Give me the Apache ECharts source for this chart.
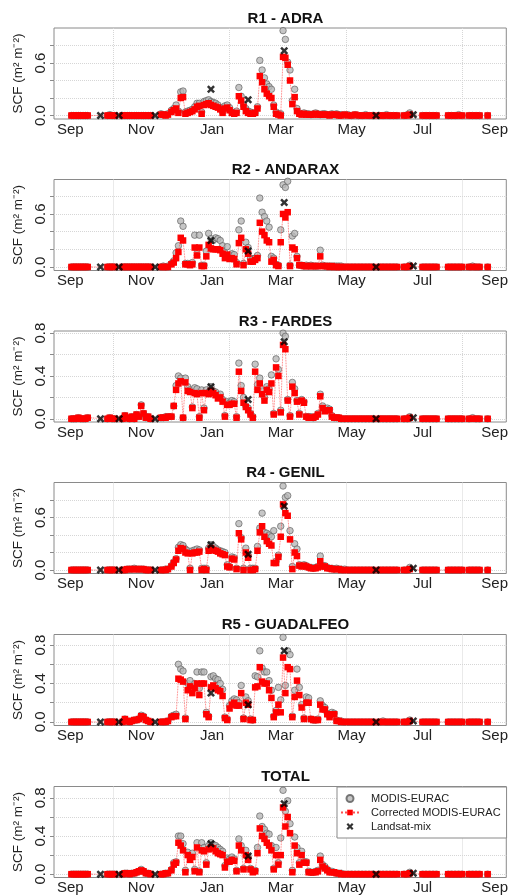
<!DOCTYPE html>
<html>
<head>
<meta charset="utf-8">
<script src="https://cdn.jsdelivr.net/npm/echarts@6/dist/echarts.min.js"></script>
<style>
  html, body { margin: 0; padding: 0; background: #fff; }
  #chart { width: 511px; height: 896px; }
</style>
</head>
<body>
<div id="chart"></div>
<script>
// days counted from 1 September (one hydrological year)
const days = [
  1,3,5,7,9,11,13,15, 32,34,36,38, 45,47,49,51,53,55,57,59,61,63,65,67,69, 78,80,82,84,
  87,89,91,93,95,97,99,101,103,105,
  107,109,111,113,115,117,119,121,123,125,
  127,129,131,133,135,137,139,141,143,145,
  147,149,151,153,155,157,159,161,163,165,
  167,169,171,173,175,177,179,181,183,185,
  187,189,191,193,195,197,199,201,203,205,
  207,209,211,213,215,217,219,221,223,225,
  227,229,231,233,
  236,239,242,245,248,251,254,257,260, 266,269,272,275,278,281, 287,290,292, 303,306,309,312,315, 325,328,331,334,337, 343,346,349,352, 359
];
const landsatDays = [26, 42, 73, 121, 153, 184, 263, 295];

const monthTicks = [0, 61, 122, 181, 242, 303, 365];
const monthLabels = ['Sep', 'Nov', 'Jan', 'Mar', 'May', 'Jul', 'Sep'];
const gridDays = [37, 137, 237, 337];
const yTicks = [0, 0.2, 0.4, 0.6, 0.8];

const regionNames = ['R1 - ADRA', 'R2 - ANDARAX', 'R3 - FARDES', 'R4 - GENIL', 'R5 - GUADALFEO', 'TOTAL'];
const yMin = [-0.04, -0.04, -0.03, -0.04, -0.037, -0.035];
const yMax = [1.0, 0.99, 0.82, 1.0, 0.91, 0.92];
const yLabelSets = [[0, 0.6], [0, 0.6], [0, 0.4, 0.8], [0, 0.6], [0, 0.4, 0.8], [0, 0.4, 0.8]];

// MODIS-EURAC
const r1Modis = [
  0,0,0,0,0,0,0,0, 0,0.01,0,0, 0,0,0,0,0,0,0,0,0,0,0,0,0, 0.02,0.01,0.01,0.02,
  0.06,0.08,0.12,0.05,0.27,0.28,0.04,0.05,0.06,0.07,
  0.10,0.14,0.14,0.04,0.16,0.17,0.18,0.16,0.15,0.14,
  0.12,0.09,0.04,0.11,0.12,0.09,0.04,0.03,0.05,0.32,
  0.22,0.12,0.08,0.05,0.04,0.03,0.03,0.10,0.63,0.52,
  0.43,0.36,0.33,0.30,0.12,0.04,0.02,0.02,0.97,0.87,
  0.61,0.52,0.17,0.30,0.08,0.03,0.02,0.03,0.02,0.02,
  0.01,0.02,0.03,0.02,0.01,0.02,0.02,0.01,0.01,0.02,
  0.01,0.02,0.01,0.01,
  0.01,0.01,0,0.01,0,0,0.01,0,0, 0,0,0.01,0,0,0, 0,0.01,0.03, 0,0,0,0,0, 0,0,0,0.01,0, 0,0,0,0, 0
];
const r2Modis = [
  0,0,0,0,0,0,0,0, 0,0,0,0, 0,0,0,0,0,0,0,0,0,0,0,0,0, 0,0.01,0,0.01,
  0.04,0.07,0.16,0.24,0.52,0.46,0.04,0.04,0.03,0.05,
  0.36,0.20,0.36,0.02,0.02,0.18,0.38,0.32,0.30,0.33,
  0.32,0.30,0.24,0.16,0.23,0.13,0.15,0.14,0.05,0.42,
  0.52,0.04,0.28,0.22,0.10,0.09,0.10,0.13,0.78,0.62,
  0.57,0.52,0.45,0.12,0.10,0.03,0.02,0.42,0.93,0.90,
  0.97,0.02,0.35,0.38,0.12,0.02,0.02,0.01,0.02,0.01,
  0.02,0.01,0.01,0.01,0.19,0.02,0.01,0.01,0.01,0.01,
  0.01,0.01,0.01,0.01,
  0,0,0,0,0,0,0,0,0, 0,0,0,0,0,0, 0,0,0.02, 0,0,0,0,0, 0,0,0,0,0, 0,0.01,0,0, 0
];
const r3Modis = [
  0,0,0,0.01,0,0,0,0.01, 0,0.01,0,0, 0,0.03,0.01,0,0.02,0,0.04,0.02,0.13,0.05,0.01,0.02,0, 0.01,0.01,0.02,0.02,
  0.02,0.12,0.31,0.40,0.38,0.01,0.38,0.30,0.27,0.11,
  0.29,0.28,0.02,0.27,0.10,0.27,0.25,0.30,0.26,0.25,
  0.22,0.23,0.18,0.03,0.16,0.15,0.17,0.16,0.02,0.52,
  0.31,0.20,0.12,0.10,0.05,0.02,0.51,0.32,0.38,0.26,
  0.20,0.30,0.28,0.41,0.05,0.56,0.46,0.08,0.80,0.77,
  0.18,0.03,0.34,0.28,0.17,0.05,0.18,0.16,0.02,0.02,
  0.02,0.01,0.02,0.05,0.23,0.12,0.08,0.10,0.09,0.03,
  0.01,0.01,0.01,0,
  0,0,0,0,0,0,0,0,0, 0,0,0,0,0,0, 0,0,0.02, 0,0,0,0,0, 0,0,0,0,0, 0,0.01,0,0, 0
];
const r4Modis = [
  0,0,0,0,0,0,0,0, 0,0,0,0, 0,0,0.01,0.01,0.01,0.02,0.01,0.01,0.01,0.01,0,0,0, 0,0,0.01,0.01,
  0.05,0.09,0.13,0.26,0.29,0.28,0.24,0.22,0.02,0.22,
  0.23,0.24,0.23,0.02,0.02,0.02,0.25,0.29,0.27,0.25,
  0.23,0.22,0.21,0.20,0.06,0.04,0.15,0.14,0.02,0.53,
  0.37,0.02,0.25,0.17,0.02,0.02,0.02,0.27,0.48,0.65,
  0.43,0.42,0.40,0.38,0.45,0.10,0.17,0.50,0.96,0.83,
  0.85,0.45,0.04,0.30,0.24,0.06,0.05,0.06,0.05,0.03,
  0.03,0.02,0.03,0.04,0.16,0.05,0.05,0.03,0.02,0.02,
  0.01,0.02,0.01,0.01,
  0.01,0,0,0,0,0,0,0,0, 0,0,0,0,0,0, 0,0,0.03, 0,0,0,0,0, 0,0,0,0,0, 0,0,0,0, 0
];
const r5Modis = [
  0,0,0,0,0,0,0,0, 0,0,0,0, 0,0.03,0.01,0,0.01,0.02,0.02,0.03,0.07,0.06,0.02,0.01,0, 0,0,0,0.01,
  0.06,0.07,0.08,0.60,0.55,0.53,0.04,0.40,0.43,0.36,
  0.40,0.52,0.35,0.52,0.52,0.10,0.06,0.47,0.48,0.45,
  0.44,0.40,0.34,0.05,0.03,0.17,0.22,0.24,0.23,0.20,
  0.38,0.04,0.26,0.22,0.03,0.02,0.48,0.47,0.74,0.56,
  0.52,0.52,0.43,0.33,0.06,0.12,0.36,0.23,0.88,0.38,
  0.74,0.70,0.06,0.33,0.55,0.36,0.18,0.04,0.26,0.25,
  0.03,0.02,0.02,0.03,0.22,0.17,0.15,0.09,0.06,0.10,
  0.09,0.02,0.01,0.01,
  0,0,0,0,0,0,0,0,0, 0,0.01,0,0,0,0, 0,0,0.02, 0,0,0,0,0, 0,0,0,0,0, 0,0,0,0, 0
];
const totModis = [
  0,0,0,0,0,0,0,0, 0,0,0,0, 0,0.01,0.01,0,0.01,0.01,0.02,0.03,0.05,0.03,0.01,0.01,0, 0,0,0.01,0.01,
  0.05,0.12,0.13,0.40,0.40,0.32,0.04,0.23,0.19,0.22,
  0.05,0.33,0.03,0.33,0.28,0.12,0.30,0.33,0.31,0.30,
  0.28,0.26,0.24,0.09,0.17,0.16,0.18,0.16,0.04,0.37,
  0.30,0.06,0.25,0.18,0.06,0.03,0.04,0.28,0.61,0.50,
  0.47,0.43,0.42,0.30,0.06,0.28,0.12,0.38,0.88,0.66,
  0.77,0.53,0.04,0.39,0.28,0.12,0.24,0.13,0.13,0.03,
  0.02,0.02,0.03,0.04,0.19,0.10,0.08,0.05,0.03,0.03,
  0.02,0.01,0.01,0.01,
  0,0,0,0,0,0,0,0,0, 0,0,0,0,0,0, 0,0,0.02, 0,0,0,0,0, 0,0,0,0,0, 0,0,0,0, 0
];

// Corrected MODIS-EURAC
const r1Corr = [
  0,0,0,0,0,0,0,0, 0,0,0,0, 0,0,0,0,0,0,0,0,0,0,0,0,0, 0.01,0.01,0,0.01,
  0.04,0.06,0.08,0.03,0.20,0.21,0.02,0.03,0.04,0.05,
  0.07,0.10,0.11,0.02,0.12,0.13,0.14,0.12,0.11,0.10,
  0.09,0.07,0.03,0.08,0.09,0.06,0.03,0.02,0.03,0.22,
  0.17,0.10,0.05,0.03,0.02,0.02,0.03,0.08,0.45,0.38,
  0.30,0.25,0.22,0.20,0.10,0.02,0.01,0,0.67,0.66,
  0.58,0.40,0.13,0.21,0.05,0.02,0.01,0.02,0.01,0.01,
  0.01,0.01,0.02,0.01,0.01,0.01,0.01,0.01,0,0.01,
  0.01,0.01,0,0,
  0.01,0,0,0.01,0,0,0,0,0, 0,0,0,0,0,0, 0,0,0.01, 0,0,0,0,0, 0,0,0,0,0, 0,0,0,0, 0
];
const r2Corr = [
  0,0,0,0,0,0,0,0, 0,0,0,0, 0,0,0,0,0,0,0,0,0,0,0,0,0, 0,0,0,0,
  0.03,0.05,0.10,0.17,0.33,0.30,0.03,0.03,0.02,0.03,
  0.22,0.13,0.22,0.01,0.01,0.12,0.25,0.21,0.20,0.20,
  0.20,0.19,0.15,0.10,0.14,0.09,0.10,0.09,0.03,0.27,
  0.33,0.02,0.20,0.15,0.06,0.06,0.08,0.10,0.50,0.40,
  0.36,0.30,0.28,0.06,0.08,0.02,0.01,0.28,0.60,0.56,
  0.62,0.01,0.22,0.20,0.10,0.02,0.02,0.01,0.01,0.01,
  0.01,0.01,0.01,0.01,0.12,0.01,0.01,0.01,0,0.01,
  0,0,0,0,
  0,0,0,0,0,0,0,0,0, 0,0,0,0,0,0, 0,0,0.01, 0,0,0,0,0, 0,0,0,0,0, 0,0,0,0, 0
];
const r3Corr = [
  0,0,0,0.01,0,0,0,0.01, 0,0.01,0,0, 0,0.03,0.01,0,0.02,0,0.04,0.02,0.12,0.05,0.01,0.02,0, 0.01,0.01,0.01,0.02,
  0.02,0.12,0.27,0.33,0.35,0.01,0.34,0.26,0.25,0.10,
  0.24,0.23,0.01,0.24,0.08,0.24,0.23,0.26,0.24,0.22,
  0.19,0.20,0.16,0.02,0.13,0.13,0.14,0.14,0.01,0.44,
  0.26,0.15,0.11,0.08,0.04,0.01,0.44,0.27,0.33,0.23,
  0.17,0.27,0.25,0.33,0.04,0.48,0.40,0.06,0.69,0.65,
  0.17,0.02,0.30,0.24,0.16,0.04,0.17,0.15,0.02,0.01,
  0.01,0.01,0.02,0.04,0.21,0.10,0.07,0.08,0.08,0.02,
  0.01,0.01,0.01,0,
  0,0,0,0,0,0,0,0,0, 0,0,0,0,0,0, 0,0,0.01, 0,0,0,0,0, 0,0,0,0,0, 0,0,0,0, 0
];
const r4Corr = [
  0,0,0,0,0,0,0,0, 0,0,0,0, 0,0,0.01,0.01,0.01,0.01,0.01,0.01,0.01,0.01,0,0,0, 0,0,0,0.01,
  0.04,0.08,0.12,0.22,0.25,0.24,0.20,0.19,0,0.19,
  0.20,0.20,0.21,0,0.01,0,0.22,0.25,0.23,0.22,
  0.21,0.19,0.18,0.17,0.04,0.03,0.13,0.12,0.01,0.42,
  0.35,0,0.20,0.14,0,0,0.01,0.22,0.43,0.50,
  0.38,0.33,0.30,0.28,0.08,0.08,0.15,0.38,0.75,0.65,
  0.62,0.35,0.01,0.20,0.16,0.05,0.04,0.05,0.04,0.03,
  0.02,0.02,0.02,0.03,0.10,0.04,0.04,0.02,0.02,0.01,
  0.01,0.01,0.01,0,
  0,0,0,0,0,0,0,0,0, 0,0,0,0,0,0, 0,0,0.01, 0,0,0,0,0, 0,0,0,0,0, 0,0,0,0, 0
];
const r5Corr = [
  0,0,0,0,0,0,0,0, 0,0,0,0, 0,0.03,0.01,0,0.01,0.02,0.02,0.03,0.06,0.05,0.02,0.01,0, 0,0,0,0.01,
  0.05,0.06,0.06,0.45,0.44,0.42,0.03,0.33,0.37,0.30,
  0.35,0.40,0.28,0.40,0.40,0.08,0.05,0.36,0.38,0.35,
  0.33,0.32,0.27,0.04,0.02,0.14,0.18,0.20,0.17,0.17,
  0.30,0.03,0.20,0.18,0.02,0.02,0.36,0.37,0.57,0.42,
  0.40,0.40,0.33,0.25,0.05,0.10,0.18,0.10,0.67,0.30,
  0.57,0.55,0.05,0.26,0.43,0.28,0.15,0.03,0.20,0.20,
  0.03,0.02,0.02,0.02,0.18,0.13,0.13,0.08,0.05,0.08,
  0.08,0.01,0.01,0,
  0,0,0,0,0,0,0,0,0, 0,0,0,0,0,0, 0,0,0.01, 0,0,0,0,0, 0,0,0,0,0, 0,0,0,0, 0
];
const totCorr = [
  0,0,0,0,0,0,0,0, 0,0,0,0, 0,0.01,0.01,0,0.01,0.01,0.02,0.03,0.04,0.03,0.01,0.01,0, 0,0,0.01,0.01,
  0.04,0.10,0.12,0.33,0.30,0.25,0.02,0.20,0.15,0.18,
  0.03,0.28,0.02,0.25,0.24,0.10,0.26,0.28,0.27,0.24,
  0.22,0.21,0.20,0.07,0.13,0.13,0.15,0.14,0.03,0.30,
  0.25,0.05,0.20,0.15,0.05,0.02,0.03,0.22,0.48,0.40,
  0.37,0.33,0.30,0.25,0.05,0.20,0.10,0.20,0.70,0.50,
  0.60,0.43,0.02,0.30,0.22,0.10,0.20,0.12,0.12,0.02,
  0.02,0.02,0.02,0.03,0.15,0.08,0.06,0.04,0.02,0.02,
  0.02,0.01,0.01,0,
  0,0,0,0,0,0,0,0,0, 0,0,0,0,0,0, 0,0,0.01, 0,0,0,0,0, 0,0,0,0,0, 0,0,0,0, 0
];

// Landsat-mix
const r1Landsat = [0, 0, 0, 0.30, 0.18, 0.74, 0, 0.01];
const r2Landsat = [0, 0, 0, 0.30, 0.18, 0.73, 0, 0.01];
const r3Landsat = [0, 0, 0, 0.30, 0.18, 0.72, 0, 0.01];
const r4Landsat = [0, 0, 0, 0.29, 0.18, 0.73, 0, 0.02];
const r5Landsat = [0, 0, 0, 0.30, 0.18, 0.74, 0, 0.01];
const totLandsat = [0, 0, 0, 0.32, 0.19, 0.74, 0, 0.01];

const modisSets = [r1Modis, r2Modis, r3Modis, r4Modis, r5Modis, totModis];
const corrSets = [r1Corr, r2Corr, r3Corr, r4Corr, r5Corr, totCorr];
const landsatSets = [r1Landsat, r2Landsat, r3Landsat, r4Landsat, r5Landsat, totLandsat];

modisSets.concat(corrSets).forEach((a, k) => {
  if (a.length !== days.length) throw new Error('array ' + k + ' has ' + a.length + ' values, expected ' + days.length);
});

const FONT = '"Liberation Sans", Arial, Helvetica, sans-serif';
// bold "x" cross
const crossPath = 'path://M2.2,0 L5,2.8 L7.8,0 L10,2.2 L7.2,5 L10,7.8 L7.8,10 L5,7.2 L2.2,10 L0,7.8 L2.8,5 L0,2.2 Z';

const panelTop = [28, 179.5, 331, 482.5, 634.5, 786.5];
const panelH = 91;

const chart = echarts.init(document.getElementById('chart'));

const grid = [], xAxis = [], yAxis = [], series = [], title = [];

regionNames.forEach((name, i) => {
  grid.push({
    left: 54, right: 4, top: panelTop[i], height: panelH,
    show: true, borderColor: '#8a8a8a', borderWidth: 1
  });
  title.push({
    text: name, left: 280.5, top: panelTop[i] - 22, textAlign: 'center',
    textStyle: { fontFamily: FONT, fontSize: 15, fontWeight: 'bold', color: '#111' }
  });
  xAxis.push({
    gridIndex: i, type: 'value', min: -14, max: 375,
    axisLine: { show: false, onZero: false },
    axisTick: { show: false, customValues: gridDays },
    splitLine: { show: true, lineStyle: { color: '#d6d6d6', type: 'dotted', width: 1 } },
    axisLabel: {
      customValues: monthTicks,
      formatter: v => monthLabels[monthTicks.indexOf(v)],
      margin: 3, fontSize: 15, color: '#222', fontFamily: FONT
    }
  });
  yAxis.push({
    gridIndex: i, type: 'value', min: yMin[i], max: yMax[i],
    name: 'SCF (m² m⁻²)', nameLocation: 'middle', nameRotate: 90, nameGap: 22,
    nameTextStyle: { fontSize: 13.5, color: '#222', fontFamily: FONT },
    axisLine: { show: false, onZero: false },
    axisTick: { show: true, customValues: yTicks, length: 4, lineStyle: { color: '#8a8a8a' } },
    axisLabel: {
      customValues: yLabelSets[i], rotate: 90,
      formatter: v => v.toFixed(1),
      margin: 6, fontSize: 15, color: '#222', fontFamily: FONT
    },
    splitLine: { show: true, lineStyle: { color: '#d6d6d6', type: 'dotted', width: 1 } }
  });

  series.push({
    name: 'MODIS-EURAC', type: 'scatter', xAxisIndex: i, yAxisIndex: i,
    symbol: 'circle', symbolSize: 6.5, z: 2,
    itemStyle: { color: '#b8b8b8', borderColor: '#5a5a5a', borderWidth: 0.8 },
    data: days.map((d, k) => [d, modisSets[i][k]])
  });
  series.push({
    name: 'Corrected MODIS-EURAC', type: 'line', xAxisIndex: i, yAxisIndex: i,
    symbol: 'rect', symbolSize: 6.5, showAllSymbol: true, z: 3,
    itemStyle: { color: '#ff0000' },
    lineStyle: { color: '#ff5050', width: 0.8, type: 'dotted' },
    data: days.map((d, k) => [d, corrSets[i][k]])
  });
  series.push({
    name: 'Landsat-mix', type: 'scatter', xAxisIndex: i, yAxisIndex: i,
    symbol: crossPath, symbolSize: 8, z: 4,
    itemStyle: { color: '#000' },
    data: landsatDays.map((d, k) => [d, landsatSets[i][k]])
  });
});

chart.setOption({
  animation: false,
  backgroundColor: '#fff',
  textStyle: { fontFamily: FONT },
  title: title,
  grid: grid,
  xAxis: xAxis,
  yAxis: yAxis,
  legend: {
    data: ['MODIS-EURAC', 'Corrected MODIS-EURAC', 'Landsat-mix'],
    orient: 'vertical', left: 337, top: 787,
    backgroundColor: '#fff', borderColor: '#8a8a8a', borderWidth: 1, borderRadius: 0,
    padding: [6, 6, 6, 3], itemGap: 3, itemWidth: 18, itemHeight: 7,
    textStyle: { fontSize: 11, color: '#222', fontFamily: FONT, padding: [0, 0, 0, 7] }
  },
  series: series
});
</script>
</body>
</html>
